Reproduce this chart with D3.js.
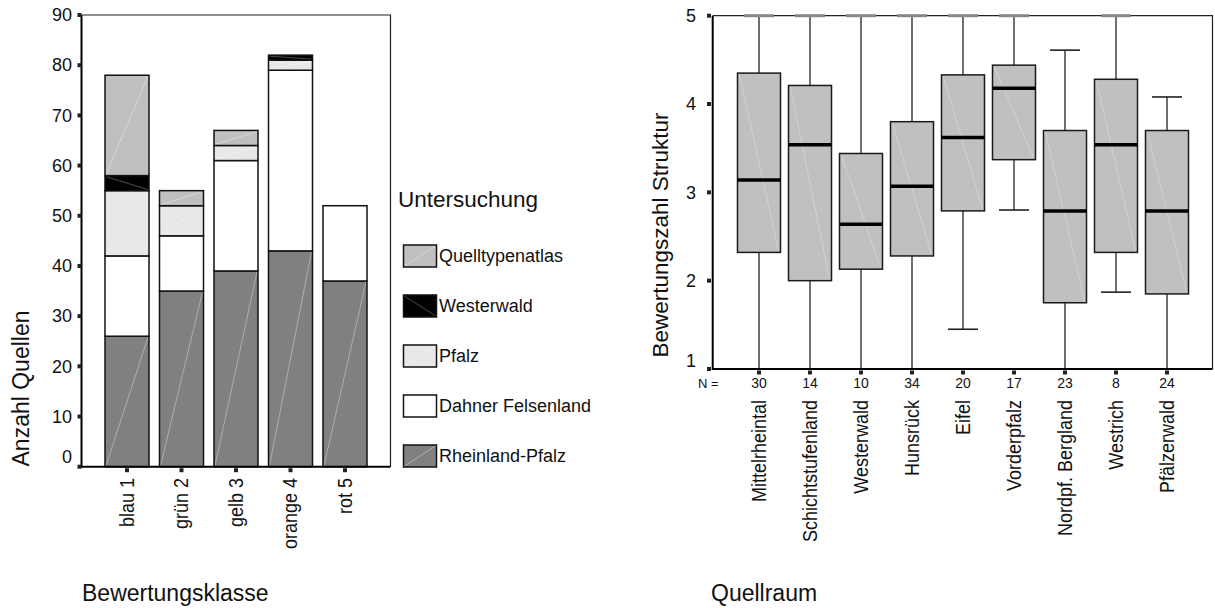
<!DOCTYPE html>
<meta charset="utf-8">
<style>
  body { margin: 0; background: #fff; }
  svg text { font-family: "Liberation Sans", Arial, Helvetica, sans-serif; fill: #111; }
</style>
<body>
<svg></svg>
<script src="https://cdn.jsdelivr.net/npm/d3@7"></script>
<script>

// LEFT CHART DATA ---------------------------------------------
var klassen = ["blau 1", "grün 2", "gelb 3", "orange 4", "rot 5"];
// stacked from bottom to top
var untersuchungen = ["Rheinland-Pfalz", "Dahner Felsenland", "Pfalz", "Westerwald", "Quelltypenatlas"];
var rheinlandPfalz   = [26, 35, 39, 43, 37];
var dahnerFelsenland = [16, 11, 22, 36, 15];
var pfalz            = [13,  6,  3,  2,  0];
var westerwald       = [ 3,  0,  0,  1,  0];
var quelltypenatlas  = [20,  3,  3,  0,  0];
var yTicksLeft = [0, 10, 20, 30, 40, 50, 60, 70, 80, 90];

// RIGHT CHART DATA --------------------------------------------
var quellraeume = ["Mittelrheintal", "Schichtstufenland", "Westerwald", "Hunsrück", "Eifel",
                   "Vorderpfalz", "Nordpf. Bergland", "Westrich", "Pfälzerwald"];
var nWerte      = [30, 14, 10, 34, 20, 17, 23, 8, 24];
var whiskerLow  = [1, 1, 1, 1, 1.45, 2.8, 1, 1.87, 1];
var q1          = [2.32, 2.0, 2.13, 2.28, 2.79, 3.37, 1.75, 2.32, 1.85];
var median      = [3.14, 3.54, 2.64, 3.07, 3.62, 4.18, 2.79, 3.54, 2.79];
var q3          = [4.35, 4.21, 3.44, 3.80, 4.33, 4.44, 3.70, 4.28, 3.70];
var whiskerHigh = [5, 5, 5, 5, 5, 5, 4.61, 5, 4.08];
var yTicksRight = [1, 2, 3, 4, 5];

var width = 1215, height = 608;
var svg = d3.select("svg").attr("width", width).attr("height", height);

var fills = {
  "Rheinland-Pfalz": "#808080",
  "Dahner Felsenland": "#ffffff",
  "Pfalz": "#e8e8e8",
  "Westerwald": "#000000",
  "Quelltypenatlas": "#c0c0c0"
};
var series = {
  "Rheinland-Pfalz": rheinlandPfalz,
  "Dahner Felsenland": dahnerFelsenland,
  "Pfalz": pfalz,
  "Westerwald": westerwald,
  "Quelltypenatlas": quelltypenatlas
};

// faint diagonal streak that the original renderer puts into filled areas
function streak(g, x0, y0, w, h, name)
{
  if(name == "Dahner Felsenland" || h < 1) return;
  var down = name == "Westerwald";
  g.append("line")
   .attr("x1", x0 + 1).attr("x2", x0 + w - 1)
   .attr("y1", down ? y0 + 1 : y0 + h - 1)
   .attr("y2", down ? y0 + h - 1 : y0 + 1)
   .attr("stroke", down ? "#777" : "#fff")
   .attr("stroke-opacity", down ? 0.8 : 0.45)
   .attr("stroke-width", 0.8);
}

// LEFT: STACKED BARS -----------------------------------------
var L = {left: 81.5, right: 390.5, top: 15, bottom: 466.7};
var x1 = d3.scalePoint().domain(klassen).range([127, 345]);
var y1 = d3.scaleLinear().domain([0, 90]).range([L.bottom, L.top]);
var barW = 44;

var left = svg.append("g");

// frame
left.append("path")
    .attr("d", "M" + L.left + "," + L.top + "H" + L.right + "V" + L.bottom)
    .attr("fill", "none").attr("stroke", "#222").attr("stroke-width", 1.2);

var rows = klassen.map(function(k, i){
  var r = {klasse: k};
  untersuchungen.forEach(function(u){ r[u] = series[u][i]; });
  return r;
});
var stack = d3.stack().keys(untersuchungen)(rows);

stack.forEach(function(layer){
  layer.forEach(function(d, i){
    if(d[1] - d[0] <= 0) return;
    var x0 = x1(klassen[i]) - barW/2;
    var yt = y1(d[1]), h = y1(d[0]) - y1(d[1]);
    left.append("rect")
        .attr("x", x0).attr("y", yt)
        .attr("width", barW).attr("height", h)
        .attr("fill", fills[layer.key]);
    streak(left, x0, yt, barW, h, layer.key);
    left.append("rect")
        .attr("x", x0).attr("y", yt)
        .attr("width", barW).attr("height", h)
        .attr("fill", "none").attr("stroke", "#111").attr("stroke-width", 1.5);
  });
});

// axes lines
left.append("line").attr("x1", L.left).attr("x2", L.left).attr("y1", L.top).attr("y2", L.bottom + 1)
    .attr("stroke", "#000").attr("stroke-width", 2);
left.append("line").attr("x1", L.left).attr("x2", L.right).attr("y1", L.bottom).attr("y2", L.bottom)
    .attr("stroke", "#000").attr("stroke-width", 2);

// y ticks and labels
yTicksLeft.forEach(function(t){
  left.append("rect").attr("x", 77.5).attr("y", y1(t) - 2).attr("width", 4).attr("height", 4).attr("fill", "#222");
  left.append("text")
      .attr("x", 72).attr("y", y1(t) - (t == 0 ? 10 : 0)).attr("dy", "0.35em")
      .attr("text-anchor", "end").style("font-size", "18px")
      .text(t);
});

// x ticks and labels
klassen.forEach(function(k){
  left.append("rect").attr("x", x1(k) - 2).attr("y", L.bottom + 1.5).attr("width", 4).attr("height", 4).attr("fill", "#222");
  left.append("text")
      .attr("transform", "translate(" + x1(k) + ",478) scale(1.1,1) rotate(-90)")
      .attr("dy", "0.35em").attr("text-anchor", "end")
      .style("font-size", "18px")
      .text(k);
});

left.append("text")
    .attr("transform", "translate(29,388.5) rotate(-90)")
    .attr("text-anchor", "middle").style("font-size", "23px")
    .text("Anzahl Quellen");
left.append("text").attr("x", 82).attr("y", 601).style("font-size", "23px").text("Bewertungsklasse");

// legend
var legend = svg.append("g");
legend.append("text").attr("x", 398).attr("y", 207).style("font-size", "22.5px").text("Untersuchung");
untersuchungen.slice().reverse().forEach(function(u, i){
  var yy = 245 + i*50;
  legend.append("rect").attr("x", 403.5).attr("y", yy).attr("width", 33).attr("height", 22).attr("fill", fills[u]);
  streak(legend, 403.5, yy, 33, 22, u);
  legend.append("rect").attr("x", 403.5).attr("y", yy).attr("width", 33).attr("height", 22)
        .attr("fill", "none").attr("stroke", "#111").attr("stroke-width", 1.5);
  legend.append("text").attr("x", 439).attr("y", yy + 11).attr("dy", "0.35em")
        .style("font-size", "18px").text(u);
});

// RIGHT: BOXPLOTS --------------------------------------------
var R = {left: 712.7, right: 1212.5, top: 15.7, bottom: 369};
var x2 = d3.scalePoint().domain(quellraeume).range([759, 1167]);
var y2 = d3.scaleLinear().domain([1, 5]).range([R.bottom, R.top]);
var boxW = 43, capW = 30;

var right = svg.append("g");

right.append("path")
     .attr("d", "M" + R.left + "," + R.top + "H" + R.right + "V" + R.bottom)
     .attr("fill", "none").attr("stroke", "#222").attr("stroke-width", 1.2);

quellraeume.forEach(function(q, i){
  var cx = x2(q);
  var g = right.append("g");
  // whiskers
  g.append("line").attr("x1", cx).attr("x2", cx).attr("y1", y2(whiskerHigh[i])).attr("y2", y2(q3[i]))
   .attr("stroke", "#222").attr("stroke-width", 1.3);
  g.append("line").attr("x1", cx).attr("x2", cx).attr("y1", y2(q1[i])).attr("y2", y2(whiskerLow[i]))
   .attr("stroke", "#222").attr("stroke-width", 1.3);
  [whiskerHigh[i], whiskerLow[i]].forEach(function(v){
    if(v == 1) return;   // hidden behind the axis line
    var edge = (v == 5);
    g.append("line").attr("x1", cx - capW/2).attr("x2", cx + capW/2).attr("y1", y2(v)).attr("y2", y2(v))
     .attr("stroke", edge ? "#888" : "#222").attr("stroke-width", edge ? 3 : 1.6);
  });
  // box
  var yt = y2(q3[i]), h = y2(q1[i]) - y2(q3[i]);
  g.append("rect").attr("x", cx - boxW/2).attr("y", yt).attr("width", boxW).attr("height", h)
   .attr("fill", "#c0c0c0");
  g.append("line").attr("x1", cx - boxW/2 + 2).attr("x2", cx + boxW/2 - 2).attr("y1", yt + 2).attr("y2", yt + h - 2)
   .attr("stroke", "#fff").attr("stroke-opacity", 0.35).attr("stroke-width", 0.8);
  g.append("rect").attr("x", cx - boxW/2).attr("y", yt).attr("width", boxW).attr("height", h)
   .attr("fill", "none").attr("stroke", "#1a1a1a").attr("stroke-width", 1.5);
  // median
  g.append("line").attr("x1", cx - boxW/2).attr("x2", cx + boxW/2).attr("y1", y2(median[i])).attr("y2", y2(median[i]))
   .attr("stroke", "#000").attr("stroke-width", 3.5);
});

right.append("line").attr("x1", R.left).attr("x2", R.left).attr("y1", R.top).attr("y2", R.bottom + 1)
     .attr("stroke", "#000").attr("stroke-width", 2);
right.append("line").attr("x1", R.left).attr("x2", R.right).attr("y1", R.bottom).attr("y2", R.bottom)
     .attr("stroke", "#000").attr("stroke-width", 2);

yTicksRight.forEach(function(t){
  right.append("rect").attr("x", 707).attr("y", y2(t) - 2).attr("width", 4).attr("height", 4).attr("fill", "#222");
  right.append("text")
       .attr("x", 696).attr("y", y2(t) - (t == 1 ? 8 : 0)).attr("dy", "0.35em")
       .attr("text-anchor", "end").style("font-size", "18px")
       .text(t);
});

right.append("text").attr("x", 698).attr("y", 383).attr("dy", "0.35em").style("font-size", "13px").text("N =");
quellraeume.forEach(function(q, i){
  right.append("rect").attr("x", x2(q) - 2).attr("y", R.bottom + 1.5).attr("width", 4).attr("height", 4).attr("fill", "#222");
  right.append("text").attr("x", x2(q)).attr("y", 383).attr("dy", "0.35em")
       .attr("text-anchor", "middle").style("font-size", "14px").text(nWerte[i]);
  right.append("text")
       .attr("transform", "translate(" + x2(q) + ",400) scale(1.1,1) rotate(-90)")
       .attr("dy", "0.35em").attr("text-anchor", "end")
       .style("font-size", "18px")
       .text(q);
});

right.append("text")
     .attr("transform", "translate(668,235) rotate(-90)")
     .attr("text-anchor", "middle").style("font-size", "22.5px")
     .text("Bewertungszahl Struktur");
right.append("text").attr("x", 711).attr("y", 601).style("font-size", "23px").text("Quellraum");

</script>
</body>
</html>
